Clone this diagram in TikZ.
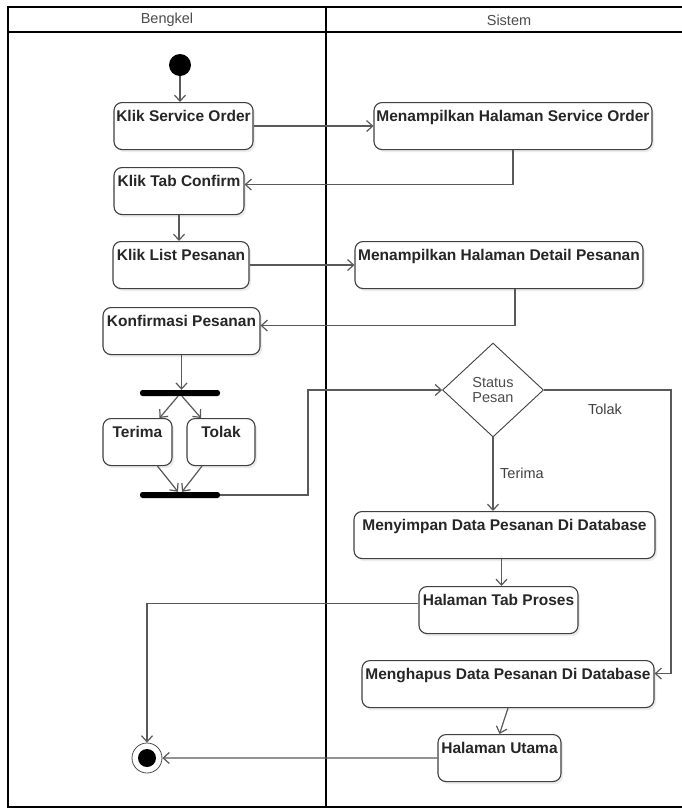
\documentclass[tikz,border=0pt]{standalone}
\usepackage{fontspec}
\setmainfont{Liberation Sans}
\usetikzlibrary{arrows.meta,shapes.geometric,shadows,calc}
\begin{document}
\begin{tikzpicture}[x=1pt,y=-1pt,
  act/.style={draw=black!75, line width=1.1pt, rounded corners=8pt, fill=white, anchor=north,
    inner xsep=0pt, inner ysep=3pt, text height=16pt, text depth=25pt,
    font=\fontsize{15.5}{17}\selectfont\bfseries, text=black!85,
    drop shadow={shadow xshift=2pt, shadow yshift=-2.5pt, opacity=0.15}},
  flow/.style={draw=black!65, line width=1.2pt, -{Straight Barb[length=6pt,width=11pt]}},
  bar/.style={fill=black, rounded corners=2.5pt, minimum width=80pt, minimum height=6pt, inner sep=0pt},
  lanehead/.style={font=\fontsize{14.5}{16}\selectfont, text=black!70},
  lbl/.style={font=\fontsize{14.5}{16}\selectfont, text=black!75, inner sep=0pt},
  frame/.style={draw=black, line width=2pt}
]
\useasboundingbox (0,0) rectangle (681,809);
\fill[white] (0,0) rectangle (681,809);

% swimlanes
\draw[frame] (8,7) rectangle (695,807);
\draw[frame] (8,32) -- (695,32);
\draw[frame] (326,7) -- (326,807);
\node[lanehead] (hb) at (167,20) {Bengkel};
\node[lanehead] (hs) at (509,20) {Sistem};

% nodes
\node[circle, fill=black, minimum size=22pt, inner sep=0pt] (start) at (180,65) {};
\node[act, minimum width=139pt] (kso) at (183.5,102) {Klik Service Order};
\node[act, minimum width=278pt] (mso) at (513,102) {Menampilkan Halaman Service Order};
\node[act, minimum width=130pt] (ktc) at (179,167) {Klik Tab Confirm};
\node[act, minimum width=136pt] (klp) at (181,241) {Klik List Pesanan};
\node[act, minimum width=288pt] (mdp) at (499,241) {Menampilkan Halaman Detail Pesanan};
\node[act, minimum width=157pt] (kp) at (181.5,307) {Konfirmasi Pesanan};
\node[bar] (fork) at (180,393) {};
\node[act, minimum width=69pt] (ter) at (137.5,418) {Terima};
\node[act, minimum width=68pt] (tol) at (221,418) {Tolak};
\node[bar] (join) at (180,495) {};
\node[diamond, draw=black!75, line width=0.9pt, fill=white, minimum width=101pt, minimum height=94pt,
  inner sep=0pt, align=center, font=\fontsize{14.5}{15.5}\selectfont, text=black!70] (dia) at (493,390) {Status\\Pesan};
\node[act, minimum width=301pt] (msd) at (504.5,511) {Menyimpan Data Pesanan Di Database};
\node[act, minimum width=159pt] (htp) at (498.5,586) {Halaman Tab Proses};
\node[act, minimum width=292pt] (mhd) at (508,660) {Menghapus Data Pesanan Di Database};
\node[act, minimum width=123pt] (hu) at (499.5,734) {Halaman Utama};
\node[circle, draw=black!70, line width=0.8pt, minimum size=30pt, inner sep=0pt, fill=white,
  path picture={\fill[black] (path picture bounding box.center) circle (9pt);}] (end) at (147,758) {};

% labels
\node[lbl, anchor=west] (lter) at (500,473) {Terima};
\node[lbl] (ltol) at (605,409) {Tolak};

% coordinates
\coordinate (jc) at (308,390);
\coordinate (tc) at (671,390);

% connectors
\draw[flow] (start.south) -- (start.south |- kso.north);
\draw[flow] (kso.east) -- (mso.west);
\draw[flow] (mso.south) |- ([yshift=6.5pt]ktc.east);
\draw[flow] (ktc.south) -- (ktc.south |- klp.north);
\draw[flow] (klp.east) -- (mdp.west);
\draw[flow] ([xshift=16pt]mdp.south) |- ([yshift=5.5pt]kp.east);
\draw[flow] (kp.south) -- (kp.south |- fork.north);
\draw[flow] ([xshift=-2pt]fork.south) -- ([xshift=22pt]ter.north);
\draw[flow] ([xshift=2pt]fork.south) -- ([xshift=-20pt]tol.north);
\draw[flow] ([xshift=20pt]ter.south) -- ([xshift=-2pt]join.north);
\draw[flow] ([xshift=-19pt]tol.south) -- ([xshift=2pt]join.north);
\draw[flow] (join.east) -| (jc) -- (dia.west);
\draw[flow] (dia.east) -- (tc) |- ([yshift=10.5pt]mhd.east);
\draw[flow] (dia.south) -- (dia.south |- msd.north);
\draw[flow] ([xshift=-3pt]msd.south) -- ([xshift=-3pt]msd.south |- htp.north);
\draw[flow] ([yshift=6.5pt]htp.west) -| (end.north);
\draw[flow] (mhd.south) -- (hu.north);
\draw[flow] (hu.west) -- (end.east);
\end{tikzpicture}
\end{document}
